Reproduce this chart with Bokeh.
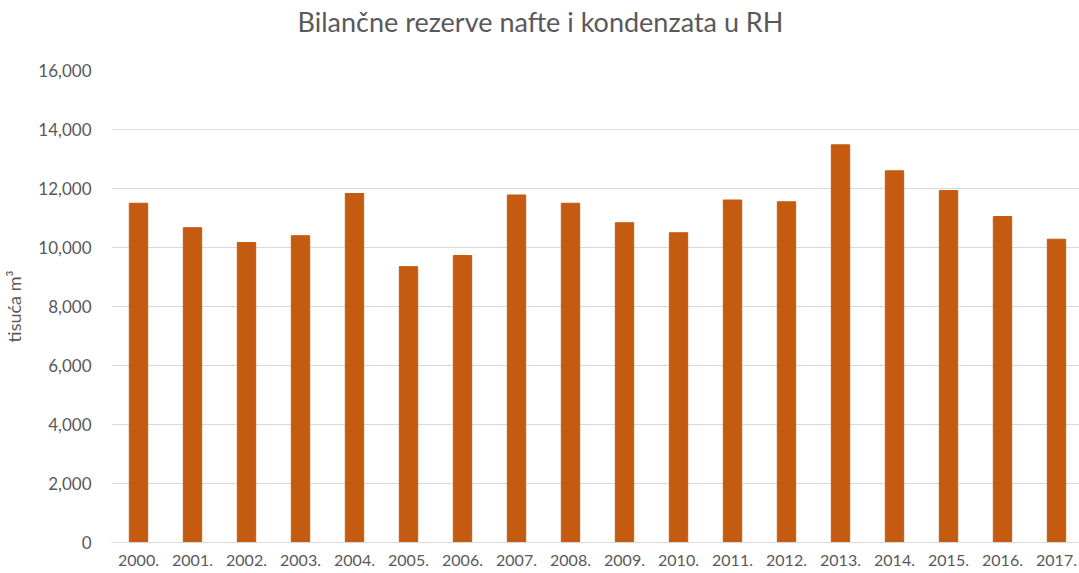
from bokeh.plotting import figure
from bokeh.models import Range1d, FixedTicker, NumeralTickFormatter, ColumnDataSource, Title
from bokeh.embed import file_html
from bokeh.resources import INLINE

years = ["2000.", "2001.", "2002.", "2003.", "2004.", "2005.", "2006.", "2007.", "2008.",
         "2009.", "2010.", "2011.", "2012.", "2013.", "2014.", "2015.", "2016.", "2017."]
reserves = [11500, 10670, 10170, 10400, 11830, 9350, 9730, 11780, 11500,
            10840, 10500, 11610, 11550, 13480, 12600, 11930, 11050, 10280]
y_ticks = [0, 2000, 4000, 6000, 8000, 10000, 12000, 14000, 16000]

xs = list(range(len(years)))
src = ColumnDataSource(dict(x=xs, year=years, value=reserves))

FONT = "Lato"
GREY = "#595959"

p = figure(frame_width=972, frame_height=472,
           x_range=Range1d(-0.5, len(years) - 0.5),
           y_range=Range1d(0, 16000),
           output_backend="svg", toolbar_location=None,
           min_border_left=0, min_border_right=0, min_border_top=0, min_border_bottom=0,
           title="Bilančne rezerve nafte i kondenzata u RH")

p.vbar(x="x", top="value", width=0.34, source=src, fill_color="#C55A11", line_color="#C55A11")

p.title.align = "left"
p.title.offset = 186
p.title.vertical_align = "top"
p.title.text_font = FONT
p.title.text_font_size = "27px"
p.title.text_font_style = "normal"
p.title.text_color = GREY
p.title.standoff = 8

# empty spacer between title and plot area
p.add_layout(Title(text=" ", text_font_size="1px", standoff=24), "above")

p.outline_line_color = None
p.background_fill_color = "white"
p.border_fill_color = "white"

p.xgrid.grid_line_color = None
p.ygrid.grid_line_color = "#D9D9D9"
p.ygrid.grid_line_width = 1

# y axis
yax = p.yaxis[0]
yax.ticker = FixedTicker(ticks=y_ticks)
yax.formatter = NumeralTickFormatter(format="0,0")
yax.axis_line_color = None
yax.major_tick_line_color = None
yax.minor_tick_line_color = None
yax.major_tick_out = 0
yax.major_label_standoff = 20
yax.major_label_text_font = FONT
yax.major_label_text_font_size = "17px"
yax.major_label_text_color = GREY
yax.axis_label = "tisuća m³"
yax.axis_label_text_font = FONT
yax.axis_label_text_font_size = "18px"
yax.axis_label_text_font_style = "normal"
yax.axis_label_text_color = GREY
yax.axis_label_standoff = 10

# x axis
xax = p.xaxis[0]
xax.ticker = FixedTicker(ticks=xs)
xax.major_label_overrides = {i: y for i, y in zip(xs, years)}
xax.axis_line_color = "#D9D9D9"
xax.axis_line_width = 1
xax.major_tick_line_color = None
xax.minor_tick_line_color = None
xax.major_tick_out = 0
xax.major_label_standoff = 12
xax.major_label_text_font = FONT
xax.major_label_text_font_size = "16px"
xax.major_label_text_color = GREY

open("out.html", "w").write(file_html(p, INLINE))
